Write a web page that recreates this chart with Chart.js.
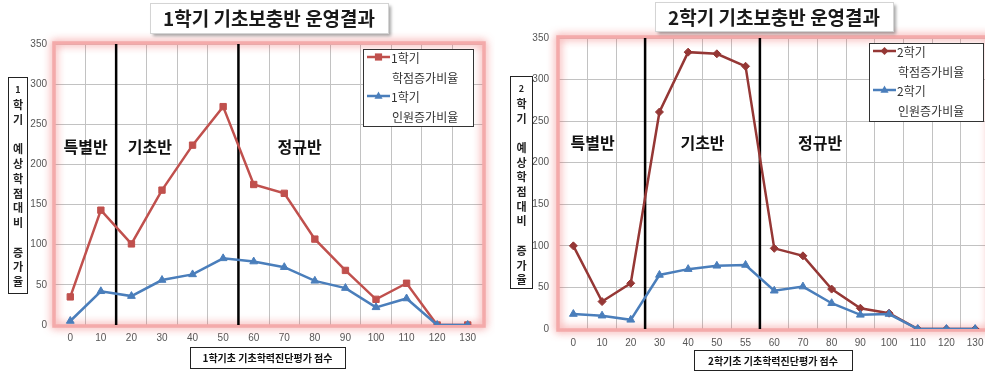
<!DOCTYPE html>
<html>
<head>
<meta charset="utf-8">
<script src="https://cdn.jsdelivr.net/npm/chart.js@4.4.1/dist/chart.umd.min.js"></script>
<style>
  html, body { margin: 0; padding: 0; background: #fff; }
  body { width: 985px; height: 371px; overflow: hidden; position: relative; }
  canvas { position: absolute; top: 0; }
  #c1 { left: 0; }
  #c2 { left: 495px; }
</style>
</head>
<body>
<canvas id="c1" width="495" height="371"></canvas>
<canvas id="c2" width="500" height="371"></canvas>
<script>
// ---- data ----
const cats1 = ['0','10','20','30','40','50','60','70','80','90','100','110','120','130'];
const credit1 = [35, 143, 101, 168, 224, 272, 175, 164, 107, 68, 32, 52, 0, 0];
const people1 = [5, 42, 36, 56, 63, 83, 79, 72, 55, 46, 22, 33, 0, 0];

const cats2 = ['0','10','20','30','40','50','55','60','70','80','90','100','110','120','130'];
const credit2 = [100, 33, 55, 261, 333, 331, 316, 97, 88, 48, 25, 19, 0, 0, 0];
const people2 = [18, 16, 11, 65, 72, 76, 77, 46, 51, 31, 17, 18, 0, 0, 0];

const title1 = '1학기 기초보충반 운영결과';
const title2 = '2학기 기초보충반 운영결과';
const xTitle1 = '1학기초 기초학력진단평가 점수';
const xTitle2 = '2학기초 기초학력진단평가 점수';
const yTitle1 = ['1학기', '예상학점대비', '증가율'];
const yTitle2 = ['2학기', '예상학점대비', '증가율'];
const legend1 = [['1학기', '학점증가비율'], ['1학기', '인원증가비율']];
const legend2 = [['2학기', '학점증가비율'], ['2학기', '인원증가비율']];

const classNames = ['특별반', '기초반', '정규반'];
// class label anchors: [category index (fractional), value]
const classPos1 = [[0.5, 222], [2.6, 222], [7.5, 222]];
const classPos2 = [[0.67, 224], [4.5, 224], [8.6, 224]];
// class dividers sit between these neighbouring categories
const dividers1 = [['10', '20'], ['50', '60']];
const dividers2 = [['20', '30'], ['55', '60']];

const yMin = 0, yMax = 350, yStep = 50;

const KR = '"Noto Sans CJK KR", "Noto Sans", sans-serif';

function drawMarker(ctx, style, r, x, y) {
  ctx.beginPath();
  if (style === 'rect') {
    ctx.rect(x - r * 0.8, y - r * 0.8, r * 1.6, r * 1.6);
  } else if (style === 'rectRot') {
    ctx.moveTo(x, y - r); ctx.lineTo(x + r, y); ctx.lineTo(x, y + r); ctx.lineTo(x - r, y); ctx.closePath();
  } else {
    ctx.moveTo(x, y - r); ctx.lineTo(x + r * 0.9, y + r * 0.6); ctx.lineTo(x - r * 0.9, y + r * 0.6); ctx.closePath();
  }
  ctx.fill();
}

// ---- decoration plugin ----
const decor = {
  id: 'decor',
  beforeDatasetsDraw(chart, args, o) {
    const ctx = chart.ctx, a = chart.chartArea, xs = chart.scales.x, ys = chart.scales.y;
    // soft red frame around the plot area
    ctx.save();
    ctx.shadowColor = 'rgba(235, 80, 80, 0.8)';
    ctx.shadowBlur = 8;
    ctx.strokeStyle = '#f4aaaa';
    ctx.lineWidth = 3.5;
    ctx.strokeRect(a.left - 1, a.top - 1, a.right - a.left + 2, a.bottom - a.top + 2);
    ctx.restore();
    // class dividers
    ctx.save();
    ctx.strokeStyle = '#000';
    ctx.lineWidth = 2.5;
    const labels = xs.getLabels();
    o.dividers.forEach(([l, r]) => {
      const x = (xs.getPixelForValue(labels.indexOf(l)) + xs.getPixelForValue(labels.indexOf(r))) / 2;
      ctx.beginPath();
      ctx.moveTo(x, a.top);
      ctx.lineTo(x, a.bottom);
      ctx.stroke();
    });
    // class names
    ctx.fillStyle = '#111';
    ctx.font = 'bold 16px ' + KR;
    ctx.textAlign = 'center';
    ctx.textBaseline = 'middle';
    const step = xs.getPixelForValue(1) - xs.getPixelForValue(0);
    classNames.forEach((t, i) => {
      const [ci, v] = o.classPos[i];
      ctx.fillText(t, xs.getPixelForValue(0) + ci * step, ys.getPixelForValue(v));
    });
    ctx.restore();
  },
  afterDraw(chart, args, o) {
    const ctx = chart.ctx;
    ctx.save();
    // title box with drop shadow
    const tb = o.titleBox;
    ctx.shadowColor = 'rgba(0,0,0,0.35)';
    ctx.shadowOffsetX = 3; ctx.shadowOffsetY = 3; ctx.shadowBlur = 3;
    ctx.fillStyle = '#fff';
    ctx.fillRect(tb[0], tb[1], tb[2], tb[3]);
    ctx.shadowColor = 'transparent';
    ctx.strokeStyle = '#d4d4d4'; ctx.lineWidth = 1;
    ctx.strokeRect(tb[0] + 0.5, tb[1] + 0.5, tb[2], tb[3]);
    ctx.fillStyle = '#1a1a1a';
    ctx.font = 'bold 19px ' + KR;
    ctx.textAlign = 'center'; ctx.textBaseline = 'middle';
    ctx.fillText(o.title, tb[0] + tb[2] / 2, tb[1] + tb[3] / 2 + 1);

    // x axis title box
    const xb = o.xBox;
    ctx.fillStyle = '#fff';
    ctx.fillRect(xb[0], xb[1], xb[2], xb[3]);
    ctx.strokeStyle = '#222'; ctx.lineWidth = 1;
    ctx.strokeRect(xb[0] + 0.5, xb[1] + 0.5, xb[2], xb[3]);
    ctx.fillStyle = '#111';
    ctx.font = 'bold 10px ' + KR;
    ctx.fillText(o.xTitle, xb[0] + xb[2] / 2, xb[1] + xb[3] / 2 + 1);

    // y axis title box, characters stacked vertically
    const yb = o.yBox;
    ctx.fillStyle = '#fff';
    ctx.fillRect(yb[0], yb[1], yb[2], yb[3]);
    ctx.strokeRect(yb[0] + 0.5, yb[1] + 0.5, yb[2], yb[3]);
    ctx.fillStyle = '#222';
    const chars = [];
    o.yTitle.forEach((g, i) => { if (i) chars.push(''); chars.push(...Array.from(g)); });
    let y = yb[1] + 13;
    chars.forEach(ch => {
      ctx.font = (/[0-9]/.test(ch) ? 'bold 9px ' : 'bold 11px ') + KR;
      if (ch) ctx.fillText(ch, yb[0] + yb[2] / 2 + 0.5, y);
      y += o.yStep;
    });

    // legend
    const lb = o.legendBox;
    ctx.fillStyle = '#fff';
    ctx.fillRect(lb[0], lb[1], lb[2], lb[3]);
    ctx.strokeStyle = '#333';
    ctx.strokeRect(lb[0] + 0.5, lb[1] + 0.5, lb[2], lb[3]);
    ctx.textAlign = 'left';
    ctx.font = '12px ' + KR;
    chart.data.datasets.forEach((ds, i) => {
      const ly = lb[1] + 8 + i * 39;
      const x0 = lb[0] + 4, x1 = lb[0] + 27;
      ctx.strokeStyle = ds.borderColor; ctx.lineWidth = 2.5;
      ctx.beginPath(); ctx.moveTo(x0, ly); ctx.lineTo(x1, ly); ctx.stroke();
      ctx.fillStyle = ds.borderColor;
      drawMarker(ctx, ds.pointStyle, ds.pointRadius, (x0 + x1) / 2, ly);
      ctx.fillStyle = '#333';
      ctx.fillText(o.legend[i][0], x1 + 1, ly + 1);
      ctx.fillText(o.legend[i][1], x1 + 2, ly + 21);
    });
    ctx.restore();
  }
};

function makeChart(id, cats, credit, people, redColor, redStyle, redRadius, geo) {
  return new Chart(document.getElementById(id), {
    type: 'line',
    data: {
      labels: cats,
      datasets: [
        {
          label: geo.legend[0].join(' '), data: credit,
          borderColor: redColor, backgroundColor: redColor,
          pointStyle: redStyle, pointRadius: redRadius, pointBorderWidth: 1,
          borderWidth: 2.5, tension: 0, order: 2
        },
        {
          label: geo.legend[1].join(' '), data: people,
          borderColor: '#4a7ebb', backgroundColor: '#4a7ebb',
          pointStyle: 'triangle', pointRadius: 4.5, pointBorderWidth: 1,
          borderWidth: 2.5, tension: 0, order: 1
        }
      ]
    },
    options: {
      responsive: false,
      animation: false,
      devicePixelRatio: 1,
      layout: { padding: { left: 0, right: geo.padRight, top: geo.padTop, bottom: 0 } },
      plugins: {
        legend: { display: false },
        tooltip: { enabled: false },
        decor: geo
      },
      scales: {
        x: {
          offset: true,
          grid: { offset: true, color: '#c2c2c2', drawTicks: false },
          border: { display: false },
          ticks: { color: '#555', font: { size: 10, family: 'Liberation Sans, Arial, sans-serif' }, padding: geo.xPad, autoSkip: false, maxRotation: 0 },
          afterFit: s => { s.height = geo.xHeight; }
        },
        y: {
          min: yMin, max: yMax,
          grid: { color: '#c2c2c2', drawTicks: false },
          border: { display: false },
          ticks: { stepSize: yStep, color: '#555', font: { size: 10, family: 'Liberation Sans, Arial, sans-serif' }, padding: geo.yPad },
          afterFit: s => { s.width = geo.yWidth; }
        }
      }
    },
    plugins: [decor]
  });
}

makeChart('c1', cats1, credit1, people1, '#c0504d', 'rect', 4.5, {
  padRight: 12, padTop: 44, xHeight: 46, yWidth: 55, xPad: 7, yPad: 8,
  title: title1, titleBox: [150, 3, 238, 30],
  xTitle: xTitle1, xBox: [190, 347, 155, 21],
  yTitle: yTitle1, yBox: [8, 77, 19, 216], yStep: 14.77,
  legend: legend1, legendBox: [363, 49, 110, 77],
  dividers: dividers1, classPos: classPos1
});

makeChart('c2', cats2, credit2, people2, '#953735', 'rectRot', 4, {
  padRight: 5, padTop: 38, xHeight: 42, yWidth: 64, xPad: 8, yPad: 10,
  title: title2, titleBox: [160, 2, 238, 29],
  xTitle: xTitle2, xBox: [199, 350, 158, 20],
  yTitle: yTitle2, yBox: [15, 76, 22, 212], yStep: 14.7,
  legend: legend2, legendBox: [374, 43, 114, 78],
  dividers: dividers2, classPos: classPos2
});
</script>
</body>
</html>
